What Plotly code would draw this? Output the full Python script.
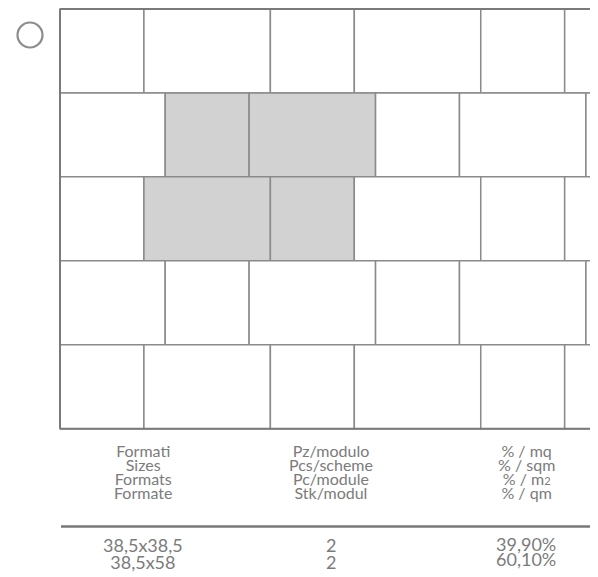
import plotly.graph_objects as go

# ---- data ----
tile_widths = [38.5, 58.0]          # small, large (cm), alternating in each row
tile_height = 38.5
n_rows = 5
shaded_tiles = [(1, 2), (1, 3), (2, 3), (2, 4)]   # (row from top, tile index) forming the module

header_sizes = ["Formati", "Sizes", "Formats", "Formate"]
header_pieces = ["Pz/modulo", "Pcs/scheme", "Pc/module", "Stk/modul"]
header_pct = ["% / mq", "% / sqm", "% / m|2", "% / qm"]   # '|' marks the small '2'

sizes = ["38,5x38,5", "38,5x58"]
pieces = [2, 2]
percents = ["39,90%", "60,10%"]

# ---- layout geometry ----
PAGE_MARGIN = 8               # browser body margin
W, H = 598 - PAGE_MARGIN, 577 - PAGE_MARGIN
S = 2.18                      # px per cm
left_px, top_px = 60 - PAGE_MARGIN, 9 - PAGE_MARGIN
grid_h = n_rows * tile_height
bottom_px = top_px + grid_h * S

x_min = -left_px / S
x_max = (W - left_px) / S
y_max = bottom_px / S
y_min = -(H - bottom_px) / S
def py(p):   # page pixel -> data y
    return (bottom_px - (p - PAGE_MARGIN)) / S
def px(p):   # page pixel -> data x
    return ((p - PAGE_MARGIN) - left_px) / S

period = sum(tile_widths)
grid_right = x_max + period

LINE = "#8a8a8a"
FILL = "#d2d2d2"
TXT = "#7b7b7b"

shapes = []
for r in range(n_rows):
    y1 = grid_h - r * tile_height
    y0 = y1 - tile_height
    offset = (period / 2) if r % 2 == 1 else 0.0
    x = offset - period
    k = 0
    while x < grid_right:
        w = tile_widths[k % 2]
        x0, x1 = x, x + w
        if x1 > 0:
            shapes.append(dict(type="rect", xref="x", yref="y",
                               x0=max(x0, 0), x1=x1, y0=y0, y1=y1,
                               line=dict(color=LINE, width=1.5),
                               fillcolor=FILL if (r, k) in shaded_tiles else "white",
                               layer="below"))
        x = x1
        k += 1

# outer border
for (xa, xb, ya, yb) in [(0, grid_right, grid_h, grid_h), (0, grid_right, 0, 0), (0, 0, 0, grid_h)]:
    shapes.append(dict(type="line", xref="x", yref="y", x0=xa, x1=xb, y0=ya, y1=yb,
                       line=dict(color="#7a7a7a", width=2)))
# table rule
shapes.append(dict(type="line", xref="x", yref="y", x0=px(61), x1=grid_right, y0=py(526.5), y1=py(526.5),
                   line=dict(color="#777777", width=2.5)))
# circle symbol
shapes.append(dict(type="circle", xref="x", yref="y",
                   x0=px(17.5), x1=px(42.5), y0=py(47.5), y1=py(22.5),
                   line=dict(color="#8c8c8c", width=2.2), fillcolor="rgba(0,0,0,0)"))

FONT = "Lato"
LS = 1.3   # plotly line spacing (em of the annotation font)

def block(lines, size, spacing):
    parts = []
    for t in lines:
        if "|" in t:
            a, b = t.split("|")
            parts.append(f"<span style='font-size:{size}px'>{a}</span>"
                         f"<span style='font-size:{round(size*0.68)}px'>{b}</span>")
        else:
            parts.append(f"<span style='font-size:{size}px'>{t}</span>")
    return "<br>".join(parts), spacing / LS

annotations = []
col_x = [px(143), px(330.5), px(526)]
head_center = (450 + 492) / 2
for c, arr in enumerate([header_sizes, header_pieces, header_pct]):
    txt, base = block(arr, 16, 14)
    annotations.append(dict(x=col_x[c], y=py(head_center), xref="x", yref="y",
                            text=txt, showarrow=False, xanchor="center", yanchor="middle",
                            font=dict(family=FONT, size=base, color=TXT)))

for c, (vals, ys) in enumerate([(sizes, (545.5, 562)), ([str(p) for p in pieces], (545.5, 562)),
                                (percents, (543.5, 558.5))]):
    txt, base = block(vals, 18, ys[1] - ys[0])
    annotations.append(dict(x=col_x[c], y=py((ys[0] + ys[1]) / 2), xref="x", yref="y",
                            text=txt, showarrow=False, xanchor="center", yanchor="middle",
                            font=dict(family=FONT, size=base, color=TXT)))

fig = go.Figure()
fig.add_trace(go.Scatter(x=[0], y=[0], mode="markers", marker=dict(opacity=0), hoverinfo="skip", showlegend=False))
fig.update_layout(
    width=W, height=H, margin=dict(l=0, r=0, t=0, b=0),
    paper_bgcolor="white", plot_bgcolor="white",
    xaxis=dict(range=[x_min, x_max], visible=False, fixedrange=True),
    yaxis=dict(range=[y_min, y_max], visible=False, fixedrange=True),
    shapes=shapes, annotations=annotations, showlegend=False,
)
fig.write_html("out.html", config={"displayModeBar": False})
